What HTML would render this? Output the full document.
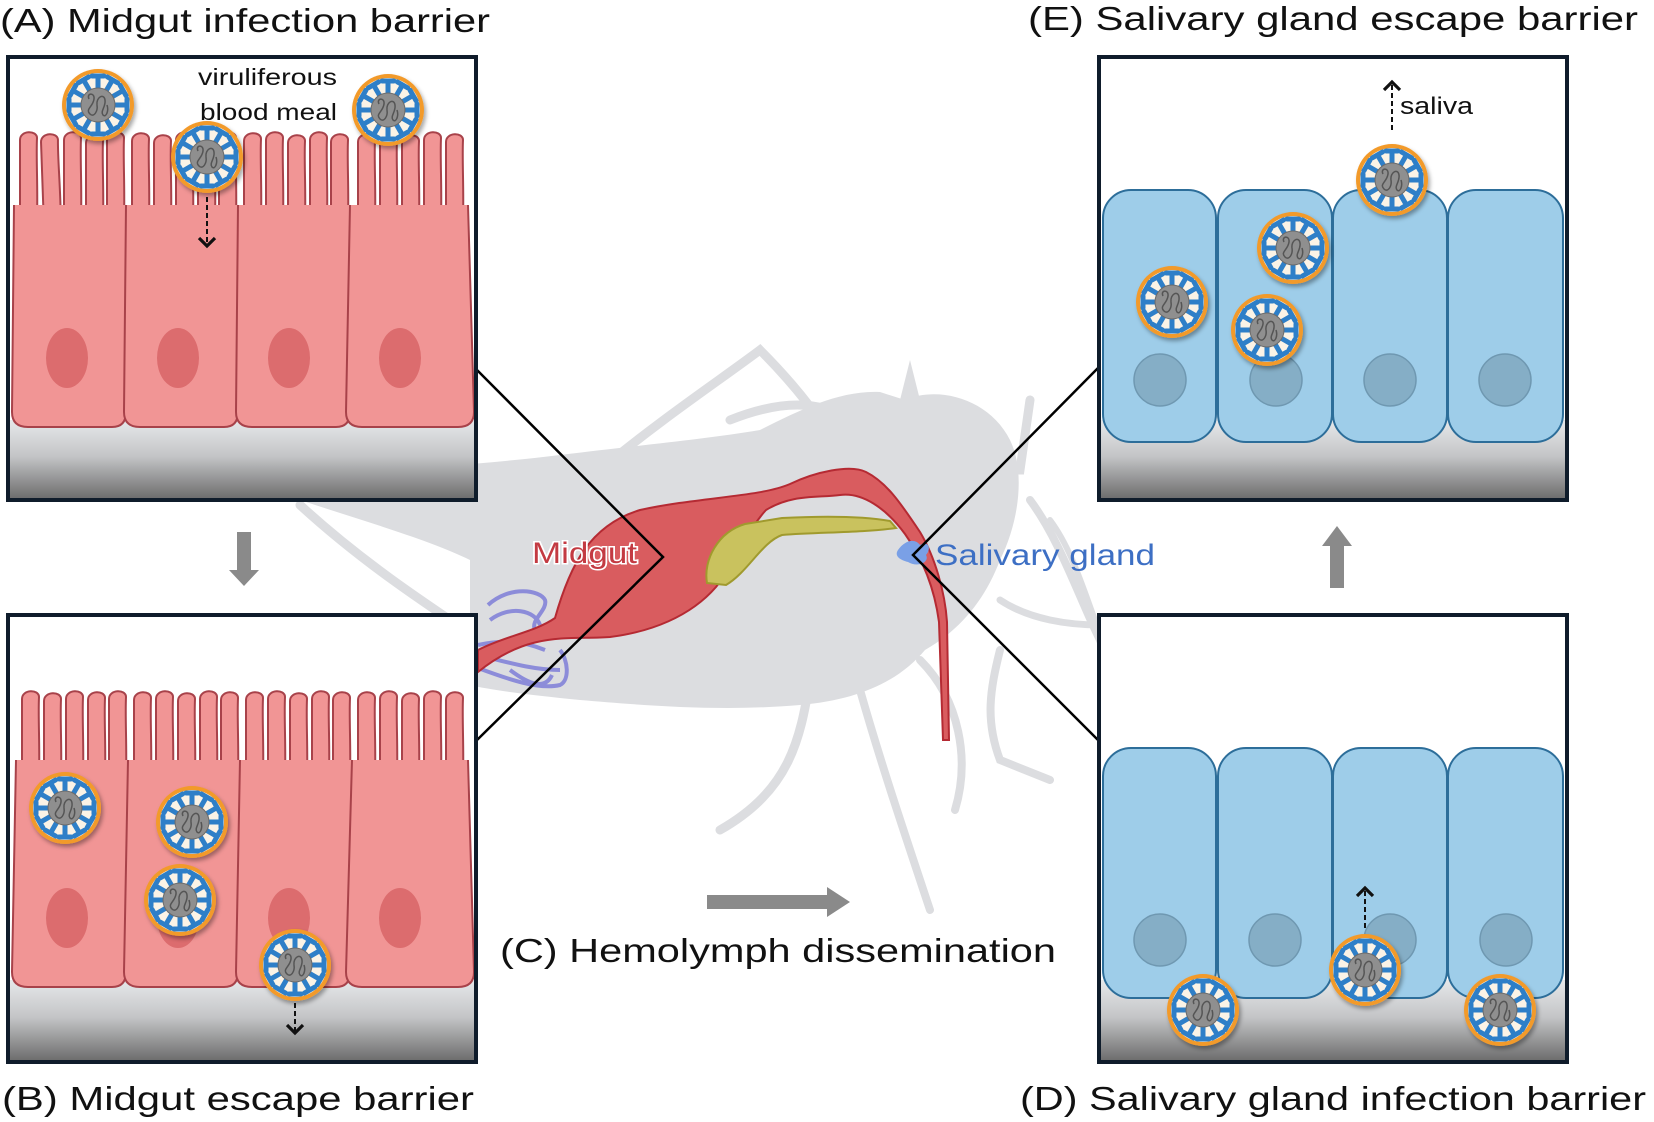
<!DOCTYPE html>
<html><head><meta charset="utf-8"><style>
html,body{margin:0;padding:0;background:#fff;}
svg{display:block;}
text{font-family:"Liberation Sans",Arial,sans-serif;}
</style></head><body>
<svg width="1654" height="1122" viewBox="0 0 1654 1122" xmlns="http://www.w3.org/2000/svg">
<defs>
<linearGradient id="bm" x1="0" y1="0" x2="0" y2="1">
<stop offset="0" stop-color="#e6e8ea"/><stop offset="0.45" stop-color="#c4c5c7"/><stop offset="1" stop-color="#6a6a6a"/>
</linearGradient>
<filter id="sh" x="-30%" y="-30%" width="160%" height="160%"><feDropShadow dx="2" dy="3" stdDeviation="2" flood-color="#000" flood-opacity="0.35"/></filter>
<g id="sp"><line x1="0" y1="-15" x2="0" y2="-29" stroke="#2f7fc8" stroke-width="5"/><line x1="-6" y1="-29" x2="6" y2="-29" stroke="#2f7fc8" stroke-width="5" stroke-linecap="round"/></g>
<g id="vir" filter="url(#sh)">
<circle r="36" fill="#f29a2c"/>
<circle r="32" fill="#fbf3e6"/>
<use href="#sp"/><use href="#sp" transform="rotate(30)"/><use href="#sp" transform="rotate(60)"/><use href="#sp" transform="rotate(90)"/><use href="#sp" transform="rotate(120)"/><use href="#sp" transform="rotate(150)"/><use href="#sp" transform="rotate(180)"/><use href="#sp" transform="rotate(210)"/><use href="#sp" transform="rotate(240)"/><use href="#sp" transform="rotate(270)"/><use href="#sp" transform="rotate(300)"/><use href="#sp" transform="rotate(330)"/>
<circle r="17" fill="#8f8f8f" stroke="#6a6a6a" stroke-width="1"/>
<path d="M-9,-6 C-12,-12 -3,-13 -4,-6 C-5,2 -13,4 -8,9 C-4,13 0,6 -1,0 C-2,-8 6,-12 7,-5 C8,2 2,6 5,10 C8,13 11,6 9,0" fill="none" stroke="#555" stroke-width="1.5"/>
</g>
<g id="nucA"><ellipse rx="21" ry="30" fill="#dc6c6e"/></g>
<g id="f"><path d="M0,90 L0,12 C0,2 17,2 17,10 C16,30 18,60 17,90 Z" fill="#f19595" stroke="#a8424a" stroke-width="2"/></g>
<marker id="ah" markerWidth="10" markerHeight="10" refX="5" refY="5" orient="auto"><path d="M1,1 L5,5 L1,9" fill="none" stroke="#111" stroke-width="1.6"/></marker>
</defs>

<!-- mosquito silhouette -->
<g fill="none" stroke="#dcdde0" stroke-linecap="round">
<path d="M300,505 C360,560 420,600 480,640" stroke-width="9"/>
<path d="M600,470 C660,420 720,380 760,350 C800,390 830,430 850,470" stroke-width="9"/>
<path d="M730,420 C780,400 820,400 850,420" stroke-width="9"/>
<path d="M1000,470 L1020,470 L1030,400" stroke-width="9"/>
<path d="M1030,500 C1060,540 1080,600 1100,640 L1130,720" stroke-width="8"/>
<path d="M1000,600 C1030,620 1070,625 1100,625" stroke-width="7"/>
<path d="M810,680 C800,740 790,790 720,830" stroke-width="9"/>
<path d="M860,690 C880,760 900,820 930,910" stroke-width="8"/>
<path d="M920,660 C960,700 970,760 955,810" stroke-width="8"/>
<path d="M1000,650 C990,690 985,720 1000,760 L1050,780" stroke-width="8"/>
<path d="M1050,520 C1080,560 1090,620 1120,680" stroke-width="6"/>
</g>
<path d="M300,480 C380,470 480,465 560,455 C640,445 700,440 760,430 C800,410 840,390 880,392 L905,400 C940,385 990,400 1010,440 C1025,470 1020,520 1000,560 C985,600 960,630 925,650 C900,680 860,700 800,705 C720,712 640,705 580,700 C530,695 490,690 470,685 L470,560 C430,540 360,520 300,500 Z" fill="#dcdde0"/>
<path d="M900,400 L910,360 L920,400 Z" fill="#dcdde0"/>

<!-- purple tubes -->
<g fill="none" stroke="#7f7fd8" stroke-width="4" opacity="0.85">
<path d="M478,645 C500,640 520,640 545,650"/>
<path d="M478,655 C500,660 530,670 560,670"/>
<path d="M488,605 C510,585 540,590 545,600 C548,610 530,620 535,630"/>
<path d="M490,620 C510,605 535,610 540,625"/>
<path d="M478,668 C510,680 540,690 560,685 C570,680 568,660 560,650"/>
<path d="M510,670 C530,685 545,690 552,675"/>
</g>

<!-- midgut organ -->
<path d="M478,650 C505,636 535,632 555,618 C570,565 590,525 640,510 C700,497 760,497 790,484 C815,472 850,464 866,472 C886,482 900,502 920,532 C935,557 945,592 947,622 L949,740 L943,740 L939,622 C935,592 925,562 905,534 C886,508 862,492 840,495 C817,498 792,494 766,510 C746,532 736,562 716,587 C690,617 650,632 610,637 C570,640 530,630 478,672 Z" fill="#d95c5f" stroke="#b52a33" stroke-width="2"/>
<path d="M707,583 C703,560 718,532 745,524 L782,518 C822,516 862,516 890,521 L896,528 C860,533 820,532 782,535 C762,542 748,572 726,585 Z" fill="#c9c25e" stroke="#a09a2e" stroke-width="2"/>
<path d="M898,550 C905,540 915,538 920,545 C928,540 932,548 926,555 C930,562 918,568 908,562 C900,560 894,556 898,550 Z" fill="#7aa0e6"/>

<text x="532" y="563" font-size="30" fill="#c33a42" stroke="#fff" stroke-width="3" paint-order="stroke" textLength="105" lengthAdjust="spacingAndGlyphs">Midgut</text>
<text x="935" y="565" font-size="30" fill="#3d6fc4" textLength="220" lengthAdjust="spacingAndGlyphs">Salivary gland</text>

<!-- zoom lines -->
<polyline points="475,368 663,557 475,742" fill="none" stroke="#000" stroke-width="2.5"/>
<polyline points="1098,368 913,555 1098,740" fill="none" stroke="#000" stroke-width="2.5"/>

<!-- ===== Panel A ===== -->
<rect x="8" y="57" width="468" height="443" fill="#fff"/>
<rect x="8" y="420" width="468" height="80" fill="url(#bm)"/>
<g>
<use href="#f" x="20" y="128"/><use href="#f" x="42" y="130" transform="rotate(-2 50 170)"/><use href="#f" x="64" y="128"/><use href="#f" x="86" y="131"/><use href="#f" x="107" y="128"/>
<use href="#f" x="132" y="129"/><use href="#f" x="154" y="131"/><use href="#f" x="176" y="128"/><use href="#f" x="198" y="130"/><use href="#f" x="219" y="128"/>
<use href="#f" x="244" y="129"/><use href="#f" x="266" y="128"/><use href="#f" x="288" y="131"/><use href="#f" x="310" y="128"/><use href="#f" x="331" y="130"/>
<use href="#f" x="358" y="130"/><use href="#f" x="380" y="128"/><use href="#f" x="402" y="131"/><use href="#f" x="424" y="128"/><use href="#f" x="446" y="130"/>
</g>
<g fill="#f19595" stroke="#a8424a" stroke-width="2">
<path d="M14,205 L12,412 Q12,427 28,427 L112,427 Q126,427 126,412 L128,205"/>
<path d="M126,205 L124,412 Q124,427 140,427 L224,427 Q238,427 238,412 L240,205"/>
<path d="M238,205 L236,412 Q236,427 252,427 L336,427 Q350,427 350,412 L352,205"/>
<path d="M350,205 L346,412 Q346,427 362,427 L458,427 Q474,427 474,412 L468,205"/>
</g>
<use href="#nucA" x="67" y="358"/><use href="#nucA" x="178" y="358"/><use href="#nucA" x="289" y="358"/><use href="#nucA" x="400" y="358"/>
<text x="198" y="85" font-size="23" fill="#111" textLength="139" lengthAdjust="spacingAndGlyphs">viruliferous</text>
<text x="200" y="120" font-size="23" fill="#111" textLength="137" lengthAdjust="spacingAndGlyphs">blood meal</text>
<use href="#vir" x="98" y="105"/><use href="#vir" x="388" y="110"/><use href="#vir" x="207" y="157"/>
<line x1="207" y1="197" x2="207" y2="246" stroke="#111" stroke-width="2" stroke-dasharray="5,3" marker-end="url(#ah)"/>
<rect x="8" y="57" width="468" height="443" fill="none" stroke="#0f1c2b" stroke-width="4"/>
<text x="0" y="32" font-size="33" fill="#111" textLength="490" lengthAdjust="spacingAndGlyphs">(A) Midgut infection barrier</text>

<!-- ===== Panel B ===== -->
<rect x="8" y="615" width="468" height="447" fill="#fff"/>
<rect x="8" y="980" width="468" height="82" fill="url(#bm)"/>
<g>
<use href="#f" x="22" y="687"/><use href="#f" x="44" y="689"/><use href="#f" x="66" y="687"/><use href="#f" x="88" y="688"/><use href="#f" x="109" y="687"/>
<use href="#f" x="134" y="688"/><use href="#f" x="156" y="687"/><use href="#f" x="178" y="689"/><use href="#f" x="200" y="687"/><use href="#f" x="221" y="688"/>
<use href="#f" x="246" y="688"/><use href="#f" x="268" y="687"/><use href="#f" x="290" y="689"/><use href="#f" x="312" y="687"/><use href="#f" x="333" y="688"/>
<use href="#f" x="358" y="688"/><use href="#f" x="380" y="687"/><use href="#f" x="402" y="689"/><use href="#f" x="424" y="687"/><use href="#f" x="446" y="688"/>
</g>
<g fill="#f19595" stroke="#a8424a" stroke-width="2">
<path d="M16,760 L12,972 Q12,987 28,987 L112,987 Q126,987 126,972 L130,760"/>
<path d="M128,760 L124,972 Q124,987 140,987 L224,987 Q238,987 238,972 L242,760"/>
<path d="M240,760 L236,972 Q236,987 252,987 L336,987 Q350,987 350,972 L354,760"/>
<path d="M352,760 L346,972 Q346,987 362,987 L458,987 Q474,987 474,972 L468,760"/>
</g>
<use href="#nucA" x="67" y="918"/><use href="#nucA" x="178" y="918"/><use href="#nucA" x="289" y="918"/><use href="#nucA" x="400" y="918"/>
<use href="#vir" x="65" y="808"/><use href="#vir" x="192" y="822"/><use href="#vir" x="180" y="900"/><use href="#vir" x="295" y="965"/>
<line x1="295" y1="1003" x2="295" y2="1033" stroke="#111" stroke-width="2" stroke-dasharray="5,3" marker-end="url(#ah)"/>
<rect x="8" y="615" width="468" height="447" fill="none" stroke="#0f1c2b" stroke-width="4"/>
<text x="2" y="1110" font-size="33" fill="#111" textLength="472" lengthAdjust="spacingAndGlyphs">(B) Midgut escape barrier</text>

<!-- ===== Panel E ===== -->
<rect x="1099" y="57" width="468" height="443" fill="#fff"/>
<rect x="1099" y="420" width="468" height="80" fill="url(#bm)"/>
<g fill="#9ecde9" stroke="#2d6e9a" stroke-width="2">
<rect x="1103" y="190" width="113" height="252" rx="28"/>
<rect x="1218" y="190" width="114" height="252" rx="28"/>
<rect x="1333" y="190" width="114" height="252" rx="28"/>
<rect x="1448" y="190" width="115" height="252" rx="28"/>
</g>
<g fill="#85aec6" stroke="#6f98b1" stroke-width="1.5">
<circle cx="1160" cy="380" r="26"/><circle cx="1276" cy="380" r="26"/><circle cx="1390" cy="380" r="26"/><circle cx="1505" cy="380" r="26"/>
</g>
<use href="#vir" x="1172" y="302"/><use href="#vir" x="1293" y="248"/><use href="#vir" x="1267" y="330"/><use href="#vir" x="1392" y="180"/>
<line x1="1392" y1="130" x2="1392" y2="82" stroke="#111" stroke-width="2" stroke-dasharray="5,3" marker-end="url(#ah)"/>
<text x="1400" y="114" font-size="24" fill="#111" textLength="73" lengthAdjust="spacingAndGlyphs">saliva</text>
<rect x="1099" y="57" width="468" height="443" fill="none" stroke="#0f1c2b" stroke-width="4"/>
<text x="1028" y="30" font-size="33" fill="#111" textLength="610" lengthAdjust="spacingAndGlyphs">(E) Salivary gland escape barrier</text>

<!-- ===== Panel D ===== -->
<rect x="1099" y="615" width="468" height="447" fill="#fff"/>
<rect x="1099" y="980" width="468" height="82" fill="url(#bm)"/>
<g fill="#9ecde9" stroke="#2d6e9a" stroke-width="2">
<rect x="1103" y="748" width="113" height="250" rx="28"/>
<rect x="1218" y="748" width="114" height="250" rx="28"/>
<rect x="1333" y="748" width="114" height="250" rx="28"/>
<rect x="1448" y="748" width="115" height="250" rx="28"/>
</g>
<g fill="#85aec6" stroke="#6f98b1" stroke-width="1.5">
<circle cx="1160" cy="940" r="26"/><circle cx="1275" cy="940" r="26"/><circle cx="1390" cy="940" r="26"/><circle cx="1506" cy="940" r="26"/>
</g>
<use href="#vir" x="1203" y="1010"/><use href="#vir" x="1365" y="970"/><use href="#vir" x="1500" y="1010"/>
<line x1="1365" y1="928" x2="1365" y2="888" stroke="#111" stroke-width="2" stroke-dasharray="5,3" marker-end="url(#ah)"/>
<rect x="1099" y="615" width="468" height="447" fill="none" stroke="#0f1c2b" stroke-width="4"/>
<text x="1020" y="1110" font-size="33" fill="#111" textLength="626" lengthAdjust="spacingAndGlyphs">(D) Salivary gland infection barrier</text>

<!-- gray block arrows -->
<path d="M237,532 L251,532 L251,570 L259,570 L244,586 L229,570 L237,570 Z" fill="#8a8a8a"/>
<path d="M1330,588 L1344,588 L1344,546 L1352,546 L1337,526 L1322,546 L1330,546 Z" fill="#8a8a8a"/>
<path d="M707,895 L827,895 L827,887 L850,902 L827,917 L827,909 L707,909 Z" fill="#8a8a8a"/>

<text x="500" y="962" font-size="33" fill="#111" textLength="556" lengthAdjust="spacingAndGlyphs">(C) Hemolymph dissemination</text>
</svg>
</body></html>
